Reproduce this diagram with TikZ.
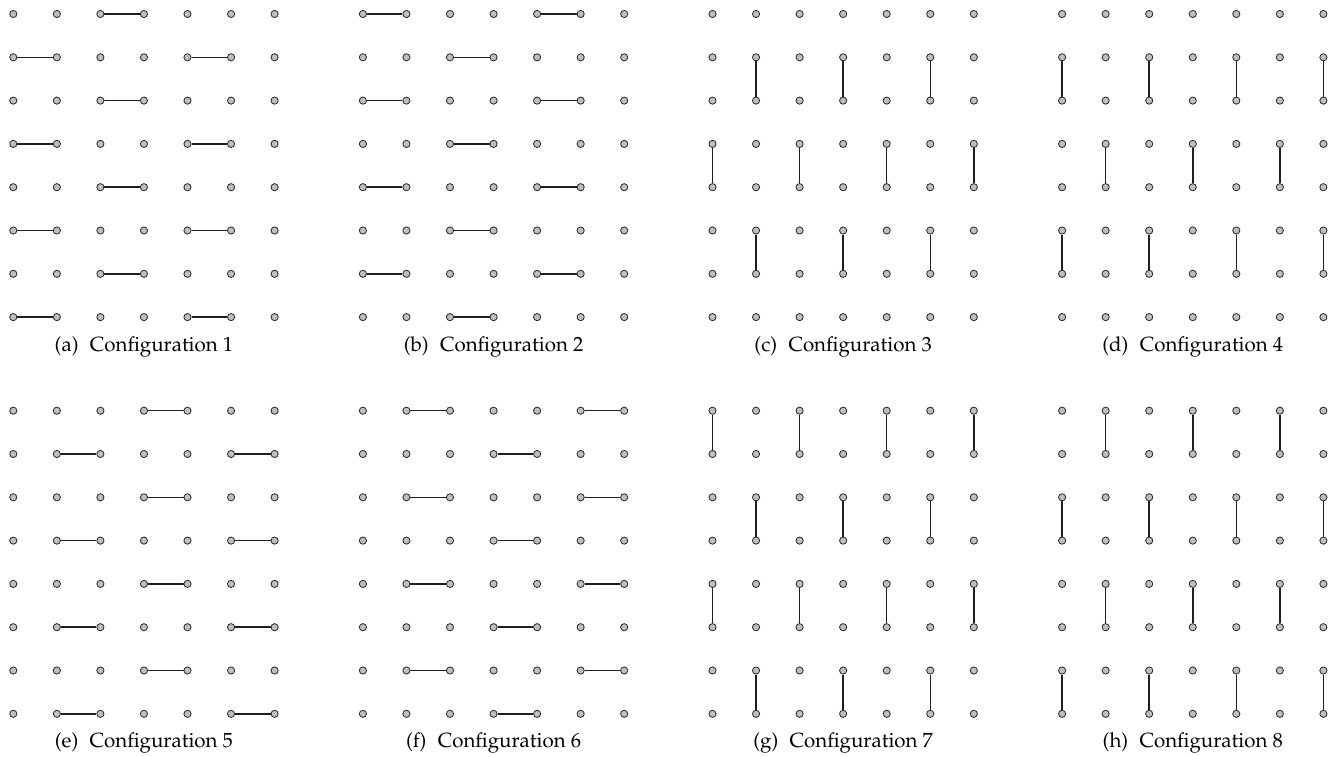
\documentclass[tikz,border=0pt]{standalone}
\usepackage[T1]{fontenc}
\usepackage{mathpazo}
\tikzset{
  dot/.style={circle,draw=black!85,fill=black!25,line width=0.8pt,inner sep=0pt,minimum size=7.2pt},
  dimer/.style={line width=1.5pt,draw=black!88},
  captext/.style={anchor=base,inner sep=0pt,font=\fontsize{20.5}{24}\selectfont}
}
\begin{document}
\begin{tikzpicture}[x=1pt,y=-1pt]
\useasboundingbox (0,0) rectangle (1338,756);
% dots
\foreach \p/\px/\py in {1/0/0,2/1/0,3/2/0,4/3/0,5/0/1,6/1/1,7/2/1,8/3/1} {
  \foreach \c in {1,...,7} {
    \foreach \r in {1,...,8} {
      \node[dot] (n\p-\c-\r) at ({13.3+349.6*\px+43.55*(\c-1)}, {14+396.7*\py+43.3*(\r-1)}) {};
    }
  }
}
% horizontal dimers
\foreach \p/\oc/\ec in {1/{3}/{1,5},2/{1,5}/{3},5/{4}/{2,6},6/{2,6}/{4}} {
  \foreach \r in {1,3,5,7} {
    \foreach \c in \oc {
      \pgfmathtruncatemacro\cc{\c+1}
      \draw[dimer] (n\p-\c-\r) -- (n\p-\cc-\r);
    }
  }
  \foreach \r in {2,4,6,8} {
    \foreach \c in \ec {
      \pgfmathtruncatemacro\cc{\c+1}
      \draw[dimer] (n\p-\c-\r) -- (n\p-\cc-\r);
    }
  }
}
% vertical dimers
\foreach \p/\ra/\rb in {3/{2,6}/{4},4/{4}/{2,6},7/{3,7}/{1,5},8/{1,5}/{3,7}} {
  \foreach \r in \ra {
    \foreach \c in {2,4,6} {
      \pgfmathtruncatemacro\rr{\r+1}
      \draw[dimer] (n\p-\c-\r) -- (n\p-\c-\rr);
    }
  }
  \foreach \r in \rb {
    \foreach \c in {1,3,5,7} {
      \pgfmathtruncatemacro\rr{\r+1}
      \draw[dimer] (n\p-\c-\r) -- (n\p-\c-\rr);
    }
  }
}
% captions
\foreach \p/\px/\py/\l in {1/0/0/a,2/1/0/b,3/2/0/c,4/3/0/d,5/0/1/e,6/1/1/f,7/2/1/g,8/3/1/h} {
  \node[captext] (cap\p) at ({13.3+349.6*\px+43.55*3}, {351+396.7*\py}) {(\l)\hspace{0.55em}Configuration \p};
}
\end{tikzpicture}
\end{document}
